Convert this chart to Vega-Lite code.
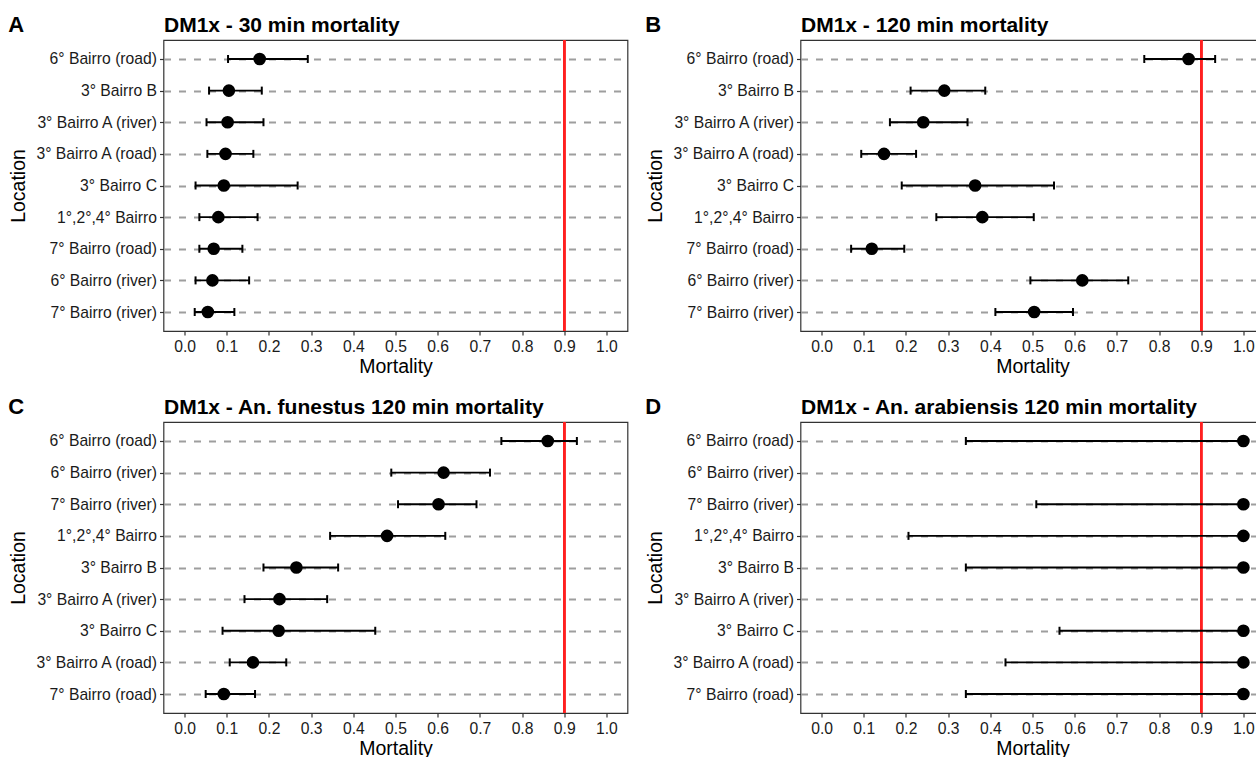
{
  "$schema": "https://vega.github.io/schema/vega-lite/v6.json",
  "padding": {"left": 7.5, "top": 13, "right": 0, "bottom": 0},
  "background": "white",
  "config": {
    "font": "Liberation Sans",
    "view": {"stroke": "#333333", "strokeWidth": 1.2},
    "axis": {
      "labelFontSize": 15.7,
      "labelColor": "#1a1a1a",
      "titleFontSize": 19.5,
      "titleFontWeight": "normal",
      "titleColor": "black",
      "tickColor": "#333333",
      "tickWidth": 1.2,
      "tickSize": 4,
      "domain": false
    }
  },
  "datasets": {
    "d": [
      {"panel": "A", "Location": "6° Bairro (road)", "Mortality": 0.178, "low": 0.103, "high": 0.292},
      {"panel": "A", "Location": "3° Bairro B", "Mortality": 0.105, "low": 0.058, "high": 0.183},
      {"panel": "A", "Location": "3° Bairro A (river)", "Mortality": 0.102, "low": 0.052, "high": 0.187},
      {"panel": "A", "Location": "3° Bairro A (road)", "Mortality": 0.097, "low": 0.054, "high": 0.163},
      {"panel": "A", "Location": "3° Bairro C", "Mortality": 0.093, "low": 0.026, "high": 0.268},
      {"panel": "A", "Location": "1°,2°,4° Bairro", "Mortality": 0.080, "low": 0.035, "high": 0.173},
      {"panel": "A", "Location": "7° Bairro (road)", "Mortality": 0.069, "low": 0.035, "high": 0.137},
      {"panel": "A", "Location": "6° Bairro (river)", "Mortality": 0.066, "low": 0.026, "high": 0.153},
      {"panel": "A", "Location": "7° Bairro (river)", "Mortality": 0.055, "low": 0.024, "high": 0.118},
      {"panel": "B", "Location": "6° Bairro (road)", "Mortality": 0.870, "low": 0.765, "high": 0.933},
      {"panel": "B", "Location": "3° Bairro B", "Mortality": 0.291, "low": 0.211, "high": 0.388},
      {"panel": "B", "Location": "3° Bairro A (river)", "Mortality": 0.241, "low": 0.162, "high": 0.346},
      {"panel": "B", "Location": "3° Bairro A (road)", "Mortality": 0.148, "low": 0.094, "high": 0.224},
      {"panel": "B", "Location": "3° Bairro C", "Mortality": 0.364, "low": 0.190, "high": 0.551},
      {"panel": "B", "Location": "1°,2°,4° Bairro", "Mortality": 0.381, "low": 0.272, "high": 0.503},
      {"panel": "B", "Location": "7° Bairro (road)", "Mortality": 0.119, "low": 0.070, "high": 0.196},
      {"panel": "B", "Location": "6° Bairro (river)", "Mortality": 0.618, "low": 0.495, "high": 0.727},
      {"panel": "B", "Location": "7° Bairro (river)", "Mortality": 0.504, "low": 0.412, "high": 0.596},
      {"panel": "C", "Location": "6° Bairro (road)", "Mortality": 0.861, "low": 0.751, "high": 0.930},
      {"panel": "C", "Location": "6° Bairro (river)", "Mortality": 0.614, "low": 0.490, "high": 0.724},
      {"panel": "C", "Location": "7° Bairro (river)", "Mortality": 0.602, "low": 0.506, "high": 0.692},
      {"panel": "C", "Location": "1°,2°,4° Bairro", "Mortality": 0.480, "low": 0.345, "high": 0.618},
      {"panel": "C", "Location": "3° Bairro B", "Mortality": 0.265, "low": 0.187, "high": 0.364},
      {"panel": "C", "Location": "3° Bairro A (river)", "Mortality": 0.225, "low": 0.142, "high": 0.338},
      {"panel": "C", "Location": "3° Bairro C", "Mortality": 0.223, "low": 0.090, "high": 0.452},
      {"panel": "C", "Location": "3° Bairro A (road)", "Mortality": 0.162, "low": 0.107, "high": 0.241},
      {"panel": "C", "Location": "7° Bairro (road)", "Mortality": 0.093, "low": 0.050, "high": 0.167},
      {"panel": "D", "Location": "6° Bairro (road)", "Mortality": 1.0, "low": 0.342, "high": 1.0},
      {"panel": "D", "Location": "7° Bairro (river)", "Mortality": 1.0, "low": 0.509, "high": 1.0},
      {"panel": "D", "Location": "1°,2°,4° Bairro", "Mortality": 1.0, "low": 0.206, "high": 1.0},
      {"panel": "D", "Location": "3° Bairro B", "Mortality": 1.0, "low": 0.342, "high": 1.0},
      {"panel": "D", "Location": "3° Bairro C", "Mortality": 1.0, "low": 0.564, "high": 1.0},
      {"panel": "D", "Location": "3° Bairro A (road)", "Mortality": 1.0, "low": 0.436, "high": 1.0},
      {"panel": "D", "Location": "7° Bairro (road)", "Mortality": 1.0, "low": 0.342, "high": 1.0}
    ]
  },
  "columns": 2,
  "spacing": {"row": 18, "column": 16},
  "resolve": {"scale": {"x": "independent", "y": "independent"}},
  "concat": [
    {
      "width": 464, "height": 291,
      "title": {"text": "A", "anchor": "start", "frame": "bounds", "fontSize": 22, "fontWeight": "bold", "color": "black", "offset": -23},
      "data": {"name": "d"},
      "transform": [{"filter": "datum.panel === 'A'"}],
      "resolve": {"axis": {"x": "independent"}},
      "layer": [
        {"mark": {"type": "rule", "color": "#ff2020", "strokeWidth": 2},
         "encoding": {"x": {"datum": 0.9, "type": "quantitative", "scale": {"domain": [-0.05, 1.05], "nice": false, "zero": false},
           "axis": {"orient": "top", "title": "DM1x - 30 min mortality", "titleFontSize": 21, "titleFontWeight": "bold", "titleAnchor": "start", "titlePadding": 5, "labels": false, "ticks": false, "grid": false}}}},
        {"mark": {"type": "rule", "color": "black", "strokeWidth": 1.9},
         "encoding": {
           "y": {"field": "Location", "type": "nominal", "scale": {"type": "point", "padding": 0.6, "domain": ["6° Bairro (road)","3° Bairro B","3° Bairro A (river)","3° Bairro A (road)","3° Bairro C","1°,2°,4° Bairro","7° Bairro (road)","6° Bairro (river)","7° Bairro (river)"]},
             "axis": {"title": "Location", "labelPadding": 3, "titlePadding": 6, "grid": true, "gridDash": [7, 8], "gridColor": "#9e9e9e", "gridWidth": 1.8}},
           "x": {"field": "low", "type": "quantitative", "scale": {"domain": [-0.05, 1.05], "nice": false, "zero": false},
             "axis": {"orient": "bottom", "title": "Mortality", "values": [0,0.1,0.2,0.3,0.4,0.5,0.6,0.7,0.8,0.9,1.0], "format": ".1f", "grid": false, "labelPadding": 4, "titlePadding": 4}},
           "x2": {"field": "high"}}},
        {"mark": {"type": "tick", "orient": "vertical", "color": "black", "size": 8, "thickness": 2, "opacity": 1},
         "encoding": {"y": {"field": "Location", "type": "nominal"}, "x": {"field": "low", "type": "quantitative", "axis": null}}},
        {"mark": {"type": "tick", "orient": "vertical", "color": "black", "size": 8, "thickness": 2, "opacity": 1},
         "encoding": {"y": {"field": "Location", "type": "nominal"}, "x": {"field": "high", "type": "quantitative", "axis": null}}},
        {"mark": {"type": "point", "filled": true, "color": "black", "opacity": 1, "size": 160},
         "encoding": {"y": {"field": "Location", "type": "nominal"}, "x": {"field": "Mortality", "type": "quantitative", "axis": null}}}
      ]
    },
    {
      "width": 464, "height": 291,
      "title": {"text": "B", "anchor": "start", "frame": "bounds", "fontSize": 22, "fontWeight": "bold", "color": "black", "offset": -23},
      "data": {"name": "d"},
      "transform": [{"filter": "datum.panel === 'B'"}],
      "resolve": {"axis": {"x": "independent"}},
      "layer": [
        {"mark": {"type": "rule", "color": "#ff2020", "strokeWidth": 2},
         "encoding": {"x": {"datum": 0.9, "type": "quantitative", "scale": {"domain": [-0.05, 1.05], "nice": false, "zero": false},
           "axis": {"orient": "top", "title": "DM1x - 120 min mortality", "titleFontSize": 21, "titleFontWeight": "bold", "titleAnchor": "start", "titlePadding": 5, "labels": false, "ticks": false, "grid": false}}}},
        {"mark": {"type": "rule", "color": "black", "strokeWidth": 1.9},
         "encoding": {
           "y": {"field": "Location", "type": "nominal", "scale": {"type": "point", "padding": 0.6, "domain": ["6° Bairro (road)","3° Bairro B","3° Bairro A (river)","3° Bairro A (road)","3° Bairro C","1°,2°,4° Bairro","7° Bairro (road)","6° Bairro (river)","7° Bairro (river)"]},
             "axis": {"title": "Location", "labelPadding": 3, "titlePadding": 6, "grid": true, "gridDash": [7, 8], "gridColor": "#9e9e9e", "gridWidth": 1.8}},
           "x": {"field": "low", "type": "quantitative", "scale": {"domain": [-0.05, 1.05], "nice": false, "zero": false},
             "axis": {"orient": "bottom", "title": "Mortality", "values": [0,0.1,0.2,0.3,0.4,0.5,0.6,0.7,0.8,0.9,1.0], "format": ".1f", "grid": false, "labelPadding": 4, "titlePadding": 4}},
           "x2": {"field": "high"}}},
        {"mark": {"type": "tick", "orient": "vertical", "color": "black", "size": 8, "thickness": 2, "opacity": 1},
         "encoding": {"y": {"field": "Location", "type": "nominal"}, "x": {"field": "low", "type": "quantitative", "axis": null}}},
        {"mark": {"type": "tick", "orient": "vertical", "color": "black", "size": 8, "thickness": 2, "opacity": 1},
         "encoding": {"y": {"field": "Location", "type": "nominal"}, "x": {"field": "high", "type": "quantitative", "axis": null}}},
        {"mark": {"type": "point", "filled": true, "color": "black", "opacity": 1, "size": 160},
         "encoding": {"y": {"field": "Location", "type": "nominal"}, "x": {"field": "Mortality", "type": "quantitative", "axis": null}}}
      ]
    },
    {
      "width": 464, "height": 291,
      "title": {"text": "C", "anchor": "start", "frame": "bounds", "fontSize": 22, "fontWeight": "bold", "color": "black", "offset": -23},
      "data": {"name": "d"},
      "transform": [{"filter": "datum.panel === 'C'"}],
      "resolve": {"axis": {"x": "independent"}},
      "layer": [
        {"mark": {"type": "rule", "color": "#ff2020", "strokeWidth": 2},
         "encoding": {"x": {"datum": 0.9, "type": "quantitative", "scale": {"domain": [-0.05, 1.05], "nice": false, "zero": false},
           "axis": {"orient": "top", "title": "DM1x - An. funestus 120 min mortality", "titleFontSize": 21, "titleFontWeight": "bold", "titleAnchor": "start", "titlePadding": 5, "labels": false, "ticks": false, "grid": false}}}},
        {"mark": {"type": "rule", "color": "black", "strokeWidth": 1.9},
         "encoding": {
           "y": {"field": "Location", "type": "nominal", "scale": {"type": "point", "padding": 0.6, "domain": ["6° Bairro (road)","6° Bairro (river)","7° Bairro (river)","1°,2°,4° Bairro","3° Bairro B","3° Bairro A (river)","3° Bairro C","3° Bairro A (road)","7° Bairro (road)"]},
             "axis": {"title": "Location", "labelPadding": 3, "titlePadding": 6, "grid": true, "gridDash": [7, 8], "gridColor": "#9e9e9e", "gridWidth": 1.8}},
           "x": {"field": "low", "type": "quantitative", "scale": {"domain": [-0.05, 1.05], "nice": false, "zero": false},
             "axis": {"orient": "bottom", "title": "Mortality", "values": [0,0.1,0.2,0.3,0.4,0.5,0.6,0.7,0.8,0.9,1.0], "format": ".1f", "grid": false, "labelPadding": 4, "titlePadding": 4}},
           "x2": {"field": "high"}}},
        {"mark": {"type": "tick", "orient": "vertical", "color": "black", "size": 8, "thickness": 2, "opacity": 1},
         "encoding": {"y": {"field": "Location", "type": "nominal"}, "x": {"field": "low", "type": "quantitative", "axis": null}}},
        {"mark": {"type": "tick", "orient": "vertical", "color": "black", "size": 8, "thickness": 2, "opacity": 1},
         "encoding": {"y": {"field": "Location", "type": "nominal"}, "x": {"field": "high", "type": "quantitative", "axis": null}}},
        {"mark": {"type": "point", "filled": true, "color": "black", "opacity": 1, "size": 160},
         "encoding": {"y": {"field": "Location", "type": "nominal"}, "x": {"field": "Mortality", "type": "quantitative", "axis": null}}}
      ]
    },
    {
      "width": 464, "height": 291,
      "title": {"text": "D", "anchor": "start", "frame": "bounds", "fontSize": 22, "fontWeight": "bold", "color": "black", "offset": -23},
      "data": {"name": "d"},
      "transform": [{"filter": "datum.panel === 'D'"}],
      "resolve": {"axis": {"x": "independent"}},
      "layer": [
        {"mark": {"type": "rule", "color": "#ff2020", "strokeWidth": 2},
         "encoding": {"x": {"datum": 0.9, "type": "quantitative", "scale": {"domain": [-0.05, 1.05], "nice": false, "zero": false},
           "axis": {"orient": "top", "title": "DM1x - An. arabiensis 120 min mortality", "titleFontSize": 21, "titleFontWeight": "bold", "titleAnchor": "start", "titlePadding": 5, "labels": false, "ticks": false, "grid": false}}}},
        {"mark": {"type": "rule", "color": "black", "strokeWidth": 1.9},
         "encoding": {
           "y": {"field": "Location", "type": "nominal", "scale": {"type": "point", "padding": 0.6, "domain": ["6° Bairro (road)","6° Bairro (river)","7° Bairro (river)","1°,2°,4° Bairro","3° Bairro B","3° Bairro A (river)","3° Bairro C","3° Bairro A (road)","7° Bairro (road)"]},
             "axis": {"title": "Location", "labelPadding": 3, "titlePadding": 6, "grid": true, "gridDash": [7, 8], "gridColor": "#9e9e9e", "gridWidth": 1.8}},
           "x": {"field": "low", "type": "quantitative", "scale": {"domain": [-0.05, 1.05], "nice": false, "zero": false},
             "axis": {"orient": "bottom", "title": "Mortality", "values": [0,0.1,0.2,0.3,0.4,0.5,0.6,0.7,0.8,0.9,1.0], "format": ".1f", "grid": false, "labelPadding": 4, "titlePadding": 4}},
           "x2": {"field": "high"}}},
        {"mark": {"type": "tick", "orient": "vertical", "color": "black", "size": 8, "thickness": 2, "opacity": 1},
         "encoding": {"y": {"field": "Location", "type": "nominal"}, "x": {"field": "low", "type": "quantitative", "axis": null}}},
        {"mark": {"type": "point", "filled": true, "color": "black", "opacity": 1, "size": 160},
         "encoding": {"y": {"field": "Location", "type": "nominal"}, "x": {"field": "Mortality", "type": "quantitative", "axis": null}}}
      ]
    }
  ]
}
